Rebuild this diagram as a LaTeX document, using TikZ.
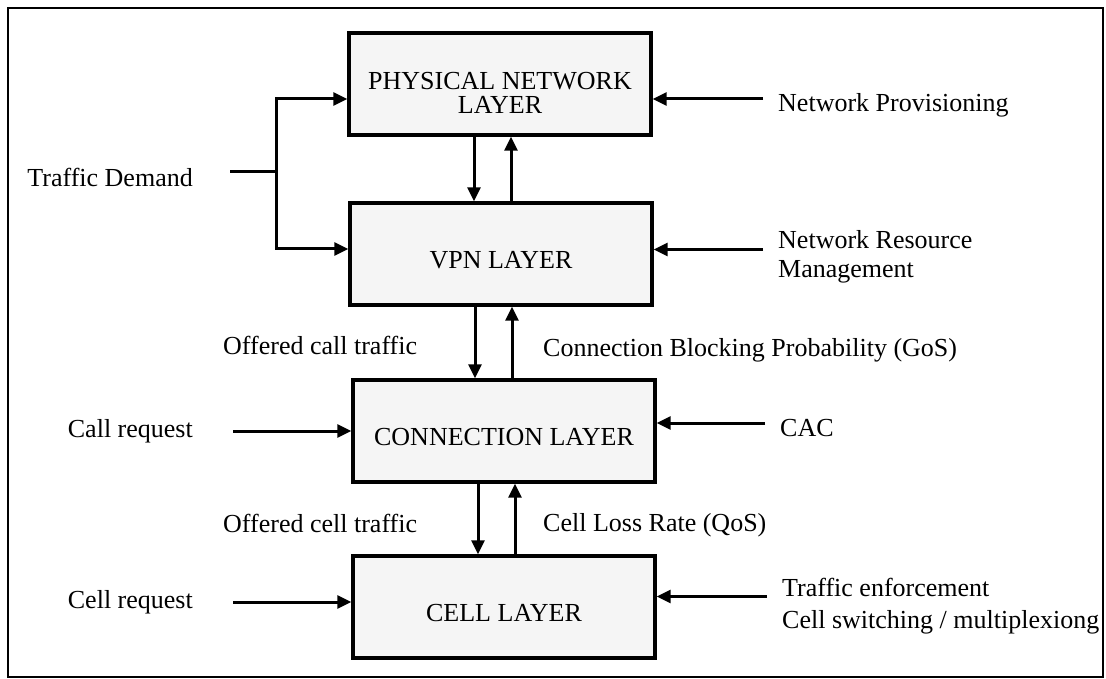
\documentclass[tikz,border=0pt]{standalone}
\usepackage{fontspec}
\setmainfont{Liberation Serif}
\usetikzlibrary{arrows.meta}

\tikzset{
  layer/.style={draw, line width=3.4pt, fill=gray!8, minimum width=302pt, minimum height=102pt, inner sep=0pt},
  layertext/.style={font=\fontsize{26}{24}\selectfont, align=center, inner sep=0pt},
  lbl/.style={font=\fontsize{26}{29}\selectfont, align=left, inner sep=0pt},
  flow/.style={line width=3pt, -{Triangle[length=14pt,width=13pt]}},
}

\begin{document}
\begin{tikzpicture}[x=1pt,y=-1pt]
\useasboundingbox (0,0) rectangle (1106,679);
\draw [line width=2.2pt] (8,8) rectangle (1103,677);

% layers
\node [layer] (phys) at (500,84) {};
\node [layer] (vpn) at (501,254) {};
\node [layer] (conn) at (504,431) {};
\node [layer] (cell) at (504,607) {};
\node [layertext] (physt) at ([yshift=-9pt]phys.center) {PHYSICAL NETWORK\\LAYER};
\node [layertext] (vpnt) at ([yshift=-6pt]vpn.center) {VPN LAYER};
\node [layertext] (connt) at ([yshift=-6pt]conn.center) {CONNECTION LAYER};
\node [layertext] (cellt) at ([yshift=-6pt]cell.center) {CELL LAYER};

% left inputs
\node [lbl, anchor=east] (demand) at (193,177) {Traffic Demand};
\node [lbl, anchor=east] (callreq) at (193,431) {Call request};
\node [lbl, anchor=east] (cellreq) at (193,602) {Cell request};

% right inputs
\node [lbl, anchor=west] (provis) at (778,105) {Network Provisioning};
\node [lbl, anchor=west] (resmgmt) at (778,257) {Network Resource\\Management};
\node [lbl, anchor=west] (cac) at (780,428) {CAC};
\node [lbl, anchor=west] (enforce) at (782,606) {Traffic enforcement\\[3pt]Cell switching / multiplexiong};

% between layers
\node [lbl, anchor=west] (offcall) at (223,345) {Offered call traffic};
\node [lbl, anchor=west] (gos) at (543,350) {Connection Blocking Probability (GoS)};
\node [lbl, anchor=west] (offcell) at (223,523) {Offered cell traffic};
\node [lbl, anchor=west] (qos) at (543,525) {Cell Loss Rate (QoS)};

% traffic demand feeds two layers
\coordinate (split) at (276,172);
\draw [line width=3pt] ([xshift=37pt,yshift=5pt]demand.east) -- (split);
\draw [flow] (split) |- ([yshift=-15pt]phys.west);
\draw [flow] (split) |- ([yshift=5pt]vpn.west);

\foreach \n/\b in {callreq/conn, cellreq/cell} {
\draw [flow] ([xshift=40pt]\n.east) -- (\n.east -| \b.west);}

\foreach \n/\b/\dy in {provis/phys/6, resmgmt/vpn/7.5, cac/conn/5, enforce/cell/9.5} {
\draw [flow] ([xshift=-15pt,yshift=\dy pt]\n.west) -- ([yshift=\dy pt]\n.west -| \b.east);}

\foreach \a/\b in {phys/vpn, vpn/conn, conn/cell} {
\draw [flow] ([xshift=-26pt]\a.south) -- ([xshift=-26pt]\a.south |- \b.north);
\draw [flow] ([xshift=11pt]\a.south |- \b.north) -- ([xshift=11pt]\a.south);}
\end{tikzpicture}
\end{document}
